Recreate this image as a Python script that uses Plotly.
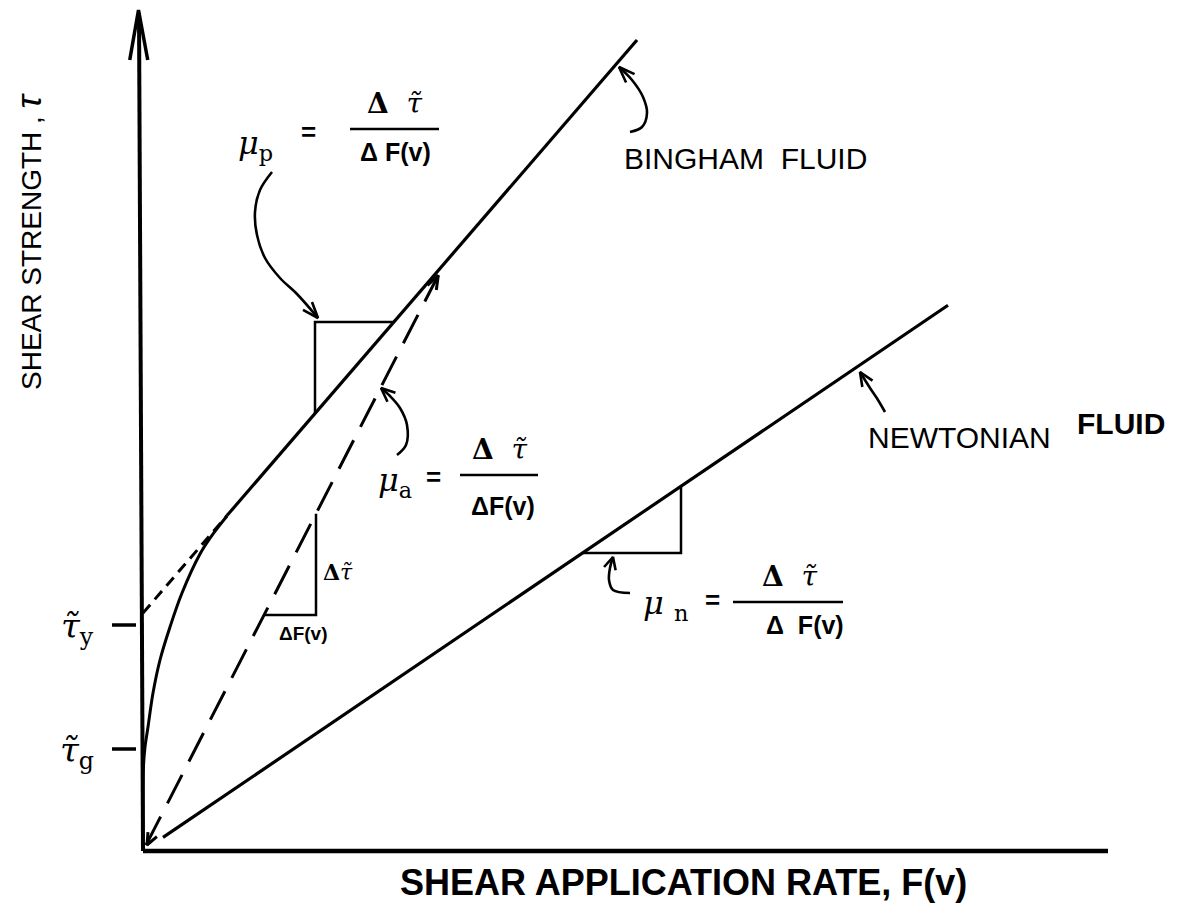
import math
import plotly.graph_objects as go

# ---------------- schematic values (abstract units) ----------------
tau_g = 1.02                 # gel strength (tick on tau axis)
tau_y = 2.26                 # yield value (tick on tau axis)
bingham_intercept = 2.38     # where the Bingham line meets the tau axis
bingham_slope = 1.16
bingham_x_end = 4.94
tangent_x = 0.84             # where the plastic curve joins the Bingham line
secant_slope = 1.95          # apparent viscosity secant
newton_slope = 0.678
newton_x = [0.2, 8.05]
axis_x_max = 9.65
axis_y_max = 8.38

curve_x = [0.0, 0.0, 0.005, 0.02, 0.05, 0.10, 0.17, 0.27, 0.39, 0.57, 0.70, 0.84]
curve_y = [0.0, 0.5, 0.85, 1.04, 1.24, 1.58, 1.91, 2.24, 2.58, 2.97, 3.17, 3.35]

# slope triangles
bingham_tri_x = 1.72
bingham_tri_top = 5.29
secant_tri_x = 1.73
secant_tri_bottom = 2.36
newton_tri_x = 5.38
newton_tri_bottom = 2.98

# pointer arrows (curved leaders)
mup_arrow_x = [1.29, 1.17, 1.12, 1.14, 1.22, 1.37, 1.54, 1.75]
mup_arrow_y = [6.79, 6.61, 6.39, 6.16, 5.93, 5.73, 5.57, 5.33]
mua_arrow_x = [2.54, 2.63, 2.64, 2.57, 2.47, 2.38]
mua_arrow_y = [3.96, 4.06, 4.26, 4.43, 4.55, 4.63]
mun_arrow_x = [4.87, 4.70, 4.66, 4.67, 4.70]
mun_arrow_y = [2.58, 2.61, 2.71, 2.83, 2.94]
bing_arrow_x = [4.87, 4.99, 5.04, 5.00, 4.89, 4.76]
bing_arrow_y = [7.19, 7.24, 7.38, 7.54, 7.71, 7.84]
newt_arrow_x = [7.42, 7.35, 7.27, 7.17]
newt_arrow_y = [4.39, 4.51, 4.63, 4.79]

# text
x_title = "SHEAR APPLICATION RATE, F(v)"
y_title = "SHEAR STRENGTH , <span style='font-size:36px'><i>τ</i></span>"
TAU = "τ\u0303"

BLACK = "#000000"
fig = go.Figure()


def line(xs, ys, width=3.0, dash=None, shape="linear"):
    fig.add_trace(go.Scatter(
        x=xs, y=ys, mode="lines", hoverinfo="skip", showlegend=False,
        line=dict(color=BLACK, width=width, dash=dash, shape=shape,
                  smoothing=1.0 if shape == "spline" else None)))


def chevron(tx, ty, fx, fy, length, half, width=3.0):
    dx, dy = tx - fx, ty - fy
    n = math.hypot(dx, dy)
    ux, uy = dx / n, dy / n
    bx, by = tx - ux * length, ty - uy * length
    px, py = -uy, ux
    line([bx + px * half, tx, bx - px * half], [by + py * half, ty, by - py * half], width)


# axes
line([0, -0.04], [0, axis_y_max], 4.0)
line([0, axis_x_max], [0, 0], 4.5)
chevron(-0.045, axis_y_max + 0.03, -0.04, axis_y_max - 1, 0.5, 0.09, 3.5)
for t in (tau_g, tau_y):
    line([-0.31, -0.07], [t, t], 3.5)

# Bingham line: dashed extension + solid part
line([0, tangent_x], [bingham_intercept, bingham_intercept + bingham_slope * tangent_x],
     3.0, dash="11px,7px")
line([tangent_x, bingham_x_end],
     [bingham_intercept + bingham_slope * tangent_x,
      bingham_intercept + bingham_slope * bingham_x_end], 3.2)

# real curve
line(curve_x, curve_y, 3.0, shape="spline")

# secant (apparent viscosity)
x_meet = bingham_intercept / (secant_slope - bingham_slope)
sec_end = x_meet - 0.06
line([0.03, sec_end], [0.03 * secant_slope, sec_end * secant_slope], 3.0, dash="32px,15px")
chevron(sec_end, sec_end * secant_slope, 0, 0, 0.14, 0.05, 3.0)
chevron(0.04, 0.06, 1, secant_slope, 0.12, 0.05, 3.0)

# Newtonian line
line(newton_x, [newton_slope * v for v in newton_x], 3.2)

# slope triangles
by0 = bingham_intercept + bingham_slope * bingham_tri_x
bx1 = (bingham_tri_top - bingham_intercept) / bingham_slope
line([bingham_tri_x, bingham_tri_x, bx1], [by0, bingham_tri_top, bingham_tri_top], 2.5)
sx0 = secant_tri_bottom / secant_slope
line([secant_tri_x, secant_tri_x, sx0],
     [secant_tri_x * secant_slope, secant_tri_bottom, secant_tri_bottom], 2.5)
nx0 = newton_tri_bottom / newton_slope
line([newton_tri_x, newton_tri_x, nx0],
     [newton_tri_x * newton_slope, newton_tri_bottom, newton_tri_bottom], 2.5)

# leaders with arrowheads
for ax_, ay_, L in ((mup_arrow_x, mup_arrow_y, 0.16), (mua_arrow_x, mua_arrow_y, 0.14),
                    (mun_arrow_x, mun_arrow_y, 0.12), (bing_arrow_x, bing_arrow_y, 0.16),
                    (newt_arrow_x, newt_arrow_y, 0.14)):
    line(ax_, ay_, 2.6, shape="spline")
    chevron(ax_[-1], ay_[-1], ax_[-2], ay_[-2], L, 0.06, 2.6)

# fraction bars
for x0, x1, yb in ((2.07, 2.96, 7.22), (3.17, 3.95, 3.76), (5.90, 7.00, 2.49)):
    line([x0, x1], [yb, yb], 2.5)

SANS = "Liberation Sans, Arial, sans-serif"
SERIF = "DejaVu Serif, serif"


def text(x, y, s, size, family=SANS, angle=0):
    fig.add_annotation(x=x, y=y, xref="x", yref="y", text=s, showarrow=False,
                       xanchor="center", yanchor="middle", textangle=angle,
                       font=dict(size=size, family=family, color=BLACK))


DELTA = "<b>Δ</b>"
text(6.02, 6.93, "BINGHAM  FLUID", 30)
text(8.16, 4.14, "NEWTONIAN", 30)
text(9.78, 4.28, "<b>FLUID</b>", 30)
text(5.40, -0.31, "<b>" + x_title + "</b>", 36)
text(-1.15, 6.10, y_title, 28, SANS, -90)

text(-0.66, 2.23, "<i>" + TAU + "</i><sub>y</sub>", 34, SERIF)
text(-0.66, 0.99, "<i>" + TAU + "</i><sub>g</sub>", 34, SERIF)

# mu_p
text(1.12, 7.06, "<i>μ</i><sub>p</sub>", 32, SERIF)
text(1.65, 7.19, "<b>=</b>", 26)
text(2.52, 7.48, DELTA + "  <i>" + TAU + "</i>", 28, SERIF)
text(2.52, 6.99, "<b>Δ F(v)</b>", 25)
# mu_a
text(2.52, 3.69, "<i>μ</i><sub>a</sub>", 32, SERIF)
text(2.90, 3.74, "<b>=</b>", 26)
text(3.57, 4.02, DELTA + "  <i>" + TAU + "</i>", 28, SERIF)
text(3.60, 3.45, "<b>ΔF(v)</b>", 25)
# mu_n
text(5.22, 2.46, "<i>μ</i> <sub>n</sub>", 32, SERIF)
text(5.69, 2.51, "<b>=</b>", 26)
text(6.47, 2.75, DELTA + "  <i>" + TAU + "</i>", 28, SERIF)
text(6.62, 2.26, "<b>Δ  F(v)</b>", 25)
# small secant triangle labels
text(1.95, 2.79, "<b>Δ</b><i>" + TAU + "</i>", 22, SERIF)
text(1.60, 2.18, "<b>ΔF(v)</b>", 19)

# page has an 8px body margin: figure is 1162x896, 100 px per unit on both axes
fig.update_layout(
    width=1162, height=896, margin=dict(l=0, r=0, t=0, b=0),
    paper_bgcolor="white", plot_bgcolor="white", showlegend=False,
    xaxis=dict(range=[-1.35, 10.27], visible=False, fixedrange=True),
    yaxis=dict(range=[-0.53, 8.43], visible=False, fixedrange=True),
)
fig.write_html("out.html")
